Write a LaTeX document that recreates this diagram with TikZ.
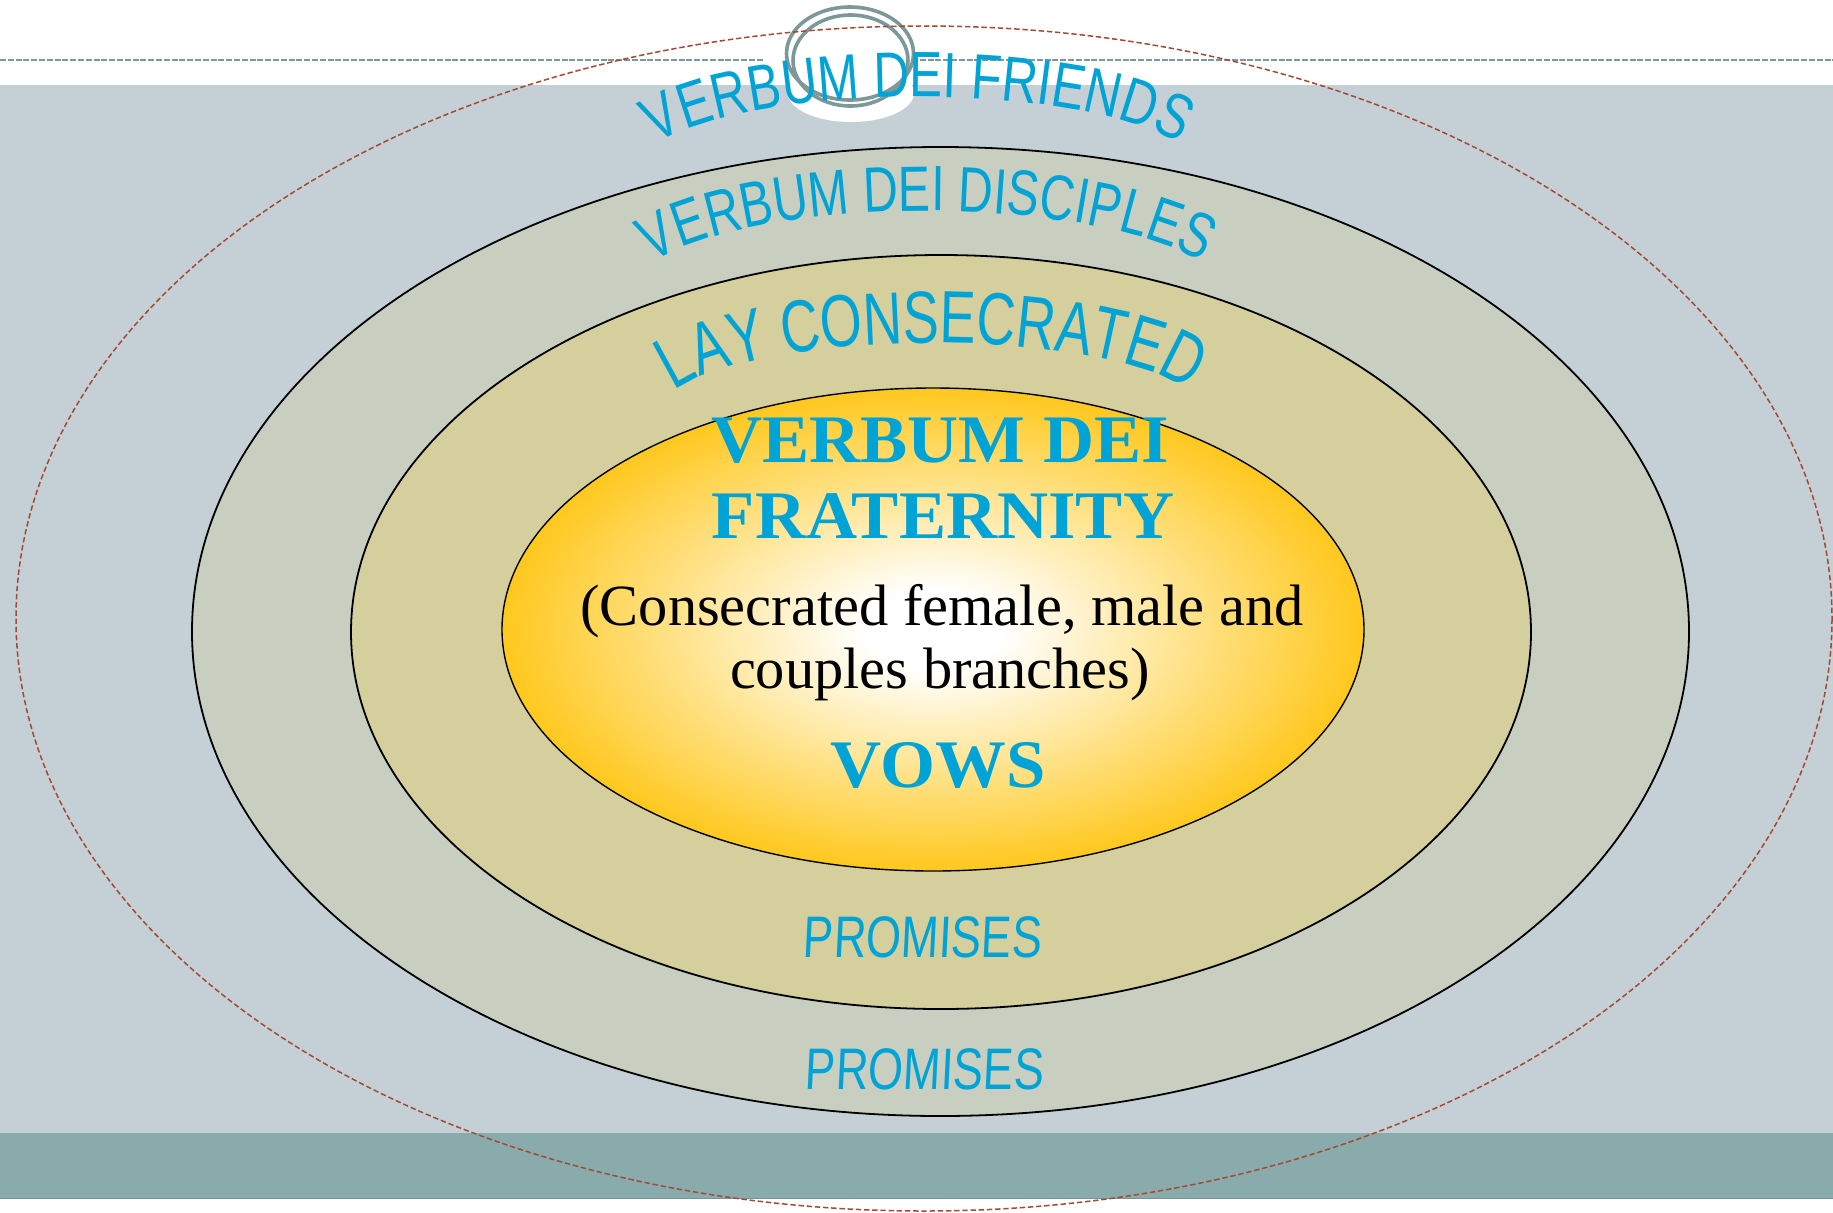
\documentclass[tikz,border=0pt]{standalone}
\usepackage{fontspec}
\setmainfont{Liberation Serif}
\newfontfamily\titlefont[FakeStretch=1.04]{Liberation Serif}
\newfontfamily\arcfontA[FakeStretch=0.771]{Liberation Sans}
\newfontfamily\arcfontB[FakeStretch=0.753]{Liberation Sans}
\newfontfamily\arcfontC[FakeStretch=0.73]{Liberation Sans}
\newfontfamily\promfont[FakeStretch=0.77]{Liberation Sans}
\usetikzlibrary{decorations.text}
\definecolor{bandgray}{RGB}{197,208,214}
\definecolor{discfill}{RGB}{201,207,192}
\definecolor{layfill}{RGB}{212,207,156}
\definecolor{tealband}{RGB}{138,171,171}
\definecolor{tealline}{RGB}{118,148,148}
\definecolor{vdblue}{RGB}{0,163,214}
\definecolor{reddash}{RGB}{163,74,50}
\definecolor{ringgray}{RGB}{125,152,152}
\definecolor{goldrim}{RGB}{255,200,30}
\pgfdeclareradialshading{goldglow}{\pgfpointorigin}{color(0bp)=(white); color(4bp)=(white); color(25bp)=(goldrim); color(50bp)=(goldrim)}
\begin{document}
\begin{tikzpicture}[x=0.5pt,y=-0.5pt,
  ring/.style={draw=black, line width=0.9pt},
  titletext/.style={font=\titlefont\bfseries\fontsize{34}{40}\selectfont, text=vdblue, anchor=base, inner sep=0pt},
  bodytext/.style={font=\fontsize{29.2}{32}\selectfont, text=black, anchor=base, inner sep=0pt},
  promtext/.style={font=\promfont\fontsize{29.3}{32}\selectfont, text=vdblue, anchor=base, inner sep=0pt, xslant=0.05},
  toprings/.style={draw=ringgray, line width=1.8pt}]
\useasboundingbox (0,0) rectangle (1833,1212);
\fill[white] (0,0) rectangle (1833,1212);
\fill[bandgray] (0,85) rectangle (1833,1133);
\fill[tealband] (0,1133) rectangle (1833,1199);
\draw[tealline, line width=0.8pt] (0,1198.5) -- (1833,1198.5);
% nested ellipses
\filldraw[ring, fill=discfill] (940.5,631.5) ellipse [x radius=748.5, y radius=484.5];
\filldraw[ring, fill=layfill] (941,632) ellipse [x radius=590, y radius=377];
\shade[shading=goldglow] (933,629.5) ellipse [x radius=431, y radius=241.5];
\draw[ring, line width=0.7pt] (933,629.5) ellipse [x radius=431, y radius=241.5];
% top decoration
\fill[white] (851,93) ellipse [x radius=63, y radius=29];
\draw[ringgray, line width=1pt, dash pattern=on 3pt off 0.9pt] (0,60) -- (763,60);
\draw[ringgray, line width=1pt, dash pattern=on 3pt off 0.9pt] (912,60) -- (1833,60);
\draw[toprings] (850,53.5) ellipse [x radius=63.5, y radius=46.5];
\draw[toprings] (850.5,60.5) ellipse [x radius=57.5, y radius=45.5];
% curved labels
\path[decorate, decoration={text along path, text align=center,
  text={|\arcfontA\fontsize{32}{33}\selectfont\color{vdblue}|VERBUM DEI FRIENDS}}]
  (918,170.4) ++(198.6:279.5 and 73.4) arc[start angle=198.6, end angle=341.4, x radius=279.5, y radius=73.4];
\path[decorate, decoration={text along path, text align=center,
  text={|\arcfontB\fontsize{32}{33}\selectfont\color{vdblue}|VERBUM DEI DISCIPLES}}]
  (927,301.2) ++(202.95:304 and 90.2) arc[start angle=202.95, end angle=337.05, x radius=304, y radius=90.2];
\path[decorate, decoration={text along path, text align=center,
  text={|\arcfontC\fontsize{37}{38}\selectfont\color{vdblue}|LAY CONSECRATED}}]
  (932,414.8) ++(199.37:272.5 and 71.8) arc[start angle=199.37, end angle=340.63, x radius=272.5, y radius=71.8];
% center texts
\node[titletext] (vdei) at (940,462) {VERBUM DEI};
\node[titletext] (frat) at (943,538) {FRATERNITY};
\node[bodytext] (cons) at (942,625) {(Consecrated female, male and};
\node[bodytext] (branch) at (940,688) {couples branches)};
\node[titletext] (vows) at (938,787) {VOWS};
\node[promtext] (prom1) at (922,957) {PROMISES};
\node[promtext] (prom2) at (924,1089) {PROMISES};
% outer dashed ellipse
\draw[reddash, line width=0.75pt, dash pattern=on 2.7pt off 1.4pt] (924,618.5) ellipse [x radius=908, y radius=592.5];
\end{tikzpicture}
\end{document}
